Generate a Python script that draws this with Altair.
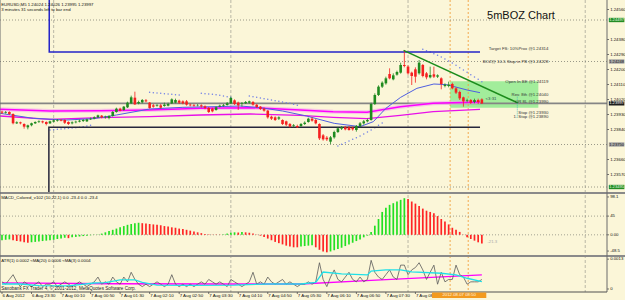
import altair as alt
import pandas as pd

BG = "#FBF6D8"
FONT = "Liberation Sans"

# ---------------- price candles (EURUSD M5), bar index 0..130 ----------------
open_p = [1.23947,1.23941,1.23945,1.23933,1.23877,1.23883,1.23873,1.23853,1.23865,1.23877,
1.23885,1.23889,1.23885,1.23877,1.23887,1.23893,1.23897,1.23897,1.23885,1.23877,
1.23883,1.23887,1.23891,1.23889,1.23901,1.23905,1.23913,1.23923,1.23913,1.23909,
1.23921,1.23945,1.23965,1.23957,1.23973,1.23997,1.24031,1.23997,1.24003,1.24015,
1.24001,1.23985,1.23981,1.23985,1.23981,1.23983,1.23997,1.24001,1.24013,1.24009,
1.24009,1.23989,1.23987,1.23985,1.23985,1.23979,1.23969,1.23965,1.23957,1.23977,
1.23983,1.23987,1.23997,1.24015,1.24001,1.23993,1.23997,1.24001,1.24005,1.23989,
1.23977,1.23965,1.23953,1.23917,1.23913,1.23905,1.23897,1.23889,1.23873,1.23861,
1.23861,1.23861,1.23873,1.23885,1.23905,1.23897,1.23873,1.23805,1.23791,1.23767,
1.23793,1.23825,1.23845,1.23853,1.23853,1.23851,1.23837,1.23861,1.23877,1.23889,
1.23897,1.23993,1.24047,1.24097,1.24117,1.24173,1.24141,1.24169,1.24181,1.24227,
1.24217,1.24181,1.24201,1.24177,1.24227,1.24177,1.24153,1.24171,1.24157,1.24147,
1.24101,1.24101,1.24113,1.24087,1.24065,1.24033,1.24013,1.24017,1.24005,1.24017,
1.24021]
high_p = [1.23953,1.23951,1.23949,1.23937,1.23889,1.23887,1.23877,1.23869,1.23881,1.23889,
1.23895,1.23893,1.23889,1.23893,1.23901,1.23903,1.23903,1.23901,1.23889,1.23889,
1.23893,1.23899,1.23903,1.23905,1.23911,1.23919,1.23929,1.23927,1.23923,1.23925,
1.23951,1.23971,1.23971,1.23981,1.24007,1.24043,1.24067,1.24013,1.24023,1.24023,
1.24005,1.23993,1.23993,1.23993,1.24001,1.24001,1.24027,1.24025,1.24019,1.24015,
1.24017,1.23995,1.23993,1.23993,1.23991,1.23985,1.23975,1.23971,1.23979,1.23989,
1.23993,1.24005,1.24037,1.24021,1.24007,1.24005,1.24011,1.24013,1.24011,1.23993,
1.23981,1.23971,1.23957,1.23923,1.23919,1.23919,1.23901,1.23893,1.23879,1.23873,
1.23869,1.23879,1.23889,1.23911,1.23913,1.23903,1.23877,1.23813,1.23801,1.23801,
1.23833,1.23853,1.23861,1.23861,1.23861,1.23857,1.23867,1.23885,1.23897,1.23905,
1.24001,1.24057,1.24105,1.24129,1.24157,1.24207,1.24177,1.24193,1.24241,1.24317,
1.24225,1.24187,1.24213,1.24257,1.24233,1.24185,1.24217,1.24217,1.24171,1.24153,
1.24117,1.24127,1.24121,1.24093,1.24073,1.24037,1.24025,1.24023,1.24025,1.24025,
1.24027]
low_p = [1.23933,1.23935,1.23927,1.23871,1.23873,1.23871,1.23845,1.23841,1.23859,1.23873,
1.23879,1.23877,1.23865,1.23873,1.23883,1.23887,1.23889,1.23873,1.23867,1.23871,
1.23877,1.23883,1.23885,1.23885,1.23897,1.23901,1.23909,1.23907,1.23905,1.23901,
1.23917,1.23941,1.23949,1.23953,1.23969,1.23993,1.23987,1.23991,1.23997,1.24003,
1.23965,1.23971,1.23977,1.23965,1.23977,1.23979,1.23993,1.23997,1.23993,1.23991,
1.23983,1.23979,1.23977,1.23979,1.23971,1.23961,1.23939,1.23943,1.23953,1.23973,
1.23977,1.23983,1.23993,1.23987,1.23957,1.23977,1.23993,1.23995,1.23983,1.23969,
1.23957,1.23947,1.23905,1.23897,1.23891,1.23897,1.23867,1.23861,1.23851,1.23853,
1.23849,1.23855,1.23867,1.23881,1.23887,1.23871,1.23777,1.23773,1.23771,1.23753,
1.23785,1.23819,1.23837,1.23835,1.23833,1.23833,1.23827,1.23853,1.23869,1.23883,
1.23893,1.23987,1.24041,1.24089,1.24109,1.24141,1.24135,1.24163,1.24175,1.24213,
1.24169,1.24107,1.24121,1.24169,1.24153,1.24141,1.24147,1.24149,1.24149,1.24081,
1.24093,1.24093,1.24081,1.24053,1.24017,1.23977,1.24003,1.23993,1.23997,1.23993,
1.23993]
close_p = [1.23941,1.23945,1.23933,1.23877,1.23883,1.23877,1.23857,1.23865,1.23877,1.23885,
1.23889,1.23883,1.23873,1.23889,1.23895,1.23897,1.23893,1.23881,1.23873,1.23883,
1.23887,1.23893,1.23897,1.23901,1.23905,1.23913,1.23925,1.23913,1.23917,1.23921,
1.23945,1.23965,1.23953,1.23977,1.24001,1.24033,1.23991,1.24005,1.24017,1.24009,
1.23969,1.23977,1.23985,1.23971,1.23989,1.23993,1.24021,1.24017,1.24001,1.23997,
1.23989,1.23985,1.23983,1.23987,1.23979,1.23969,1.23945,1.23949,1.23973,1.23983,
1.23987,1.23997,1.24029,1.23993,1.23985,1.23997,1.24005,1.24009,1.23989,1.23975,
1.23963,1.23953,1.23913,1.23905,1.23897,1.23913,1.23873,1.23869,1.23857,1.23865,
1.23853,1.23873,1.23881,1.23905,1.23893,1.23877,1.23787,1.23781,1.23781,1.23793,
1.23825,1.23847,1.23853,1.23841,1.23837,1.23841,1.23861,1.23877,1.23889,1.23897,
1.23993,1.24047,1.24097,1.24121,1.24147,1.24147,1.24165,1.24185,1.24227,1.24221,
1.24177,1.24161,1.24157,1.24241,1.24161,1.24153,1.24167,1.24157,1.24165,1.24113,
1.24109,1.24109,1.24087,1.24061,1.24027,1.24009,1.24017,1.24001,1.24017,1.24005,
1.23997]

# time axis labels (every 8 bars of 5 min)
time_tick_bars = [0, 8, 16, 24, 32, 40, 48, 56, 64, 72, 80, 88, 96, 104, 112]
time_tick_labels = ["6 Aug 2012", "6 Aug 23:30", "7 Aug 00:10", "7 Aug 00:50", "7 Aug 01:30",
                    "7 Aug 02:10", "7 Aug 02:50", "7 Aug 03:30", "7 Aug 04:10", "7 Aug 04:50",
                    "7 Aug 05:30", "7 Aug 06:10", "7 Aug 06:50", "7 Aug 07:30", "7 Aug 08:10"]

price_label_values = [1.2357, 1.2366, 1.2384, 1.2393, 1.2402, 1.2411, 1.2420, 1.2429, 1.2438, 1.2456]

# moving averages on price
ma_slow_bars = [-0.5, 13, 26.6, 40, 53.7, 67.2, 80.8, 89.7, 98.9, 107.9, 116.8, 129.5]
ma_slow_upper = [1.23961, 1.23951, 1.23953, 1.23957, 1.23967, 1.23971, 1.23957, 1.23947, 1.23943, 1.23977, 1.23997, 1.24005]
ma_slow_lower = [1.23921, 1.23901, 1.23911, 1.23917, 1.23927, 1.23933, 1.23925, 1.23913, 1.23905, 1.23925, 1.23947, 1.23961]
ma_fast_bars = [-0.5, 8.5, 17.5, 24.8, 31, 40, 49, 58, 64.5, 70, 76, 82.5, 90, 97, 100.6, 104, 108, 112.4, 117, 120.5, 126, 129.5]
ma_fast_vals = [1.23937, 1.23907, 1.23897, 1.23905, 1.23927, 1.23963, 1.23973, 1.23977, 1.23981, 1.23971, 1.23951,
                1.23921, 1.23877, 1.23857, 1.23887, 1.23967, 1.24033, 1.24087, 1.24113, 1.24109, 1.24077, 1.24061]

# parabolic SAR dots
sar_bars = (list(range(13, 25)) + list(range(40, 49)) + list(range(54, 63)) + list(range(67, 81))
            + list(range(91, 104)) + list(range(114, 131)))
sar_vals = [1.23837,1.23839,1.23841,1.23843,1.23845,1.23847,1.23849,1.23851,1.23853,1.23857,1.23861,1.23865,
            1.24063,1.24061,1.24059,1.24057,1.24055,1.24053,1.24051,1.24049,1.24047,
            1.24057,1.24055,1.24053,1.24051,1.24049,1.24045,1.24041,1.24037,1.24033,
            1.24041,1.24037,1.24033,1.24029,1.24025,1.24021,1.24017,1.24013,1.24009,1.24005,1.24001,1.23997,1.23991,1.23985,
            1.23741,1.23751,1.23761,1.23771,1.23781,1.23791,1.23801,1.23813,1.23825,1.23837,1.23851,1.23865,1.23879,
            1.24321,1.24313,1.24305,1.24295,1.24285,1.24275,1.24263,1.24251,1.24239,1.24225,1.24211,1.24197,1.24183,
            1.24169,1.24155,1.24141,1.24127]

# horizontal levels and their price tags
level_prices = [1.24497, 1.24248, 1.23750, 1.23495]
tag_prices = [1.24497, 1.24248, 1.23997, 1.23750, 1.23495]
tag_texts = ["1.24497", "1.24248", "1.23997", "1.23750", "1.23495"]
tag_kind = ["green", "gray", "bid", "gray", "green"]
bid_price = 1.23997

grid_bars = [14, 62, 110, 158]
session_bars = [121.4, 126.3]

target_bars = [12.8, 12.8, 129.5]
target_prices = [1.24617, 1.24305, 1.24305]
support_bars = [12.7, 12.7, 129.5]
support_prices = [1.23465, 1.23853, 1.23853]
zone_bars = [121.4, 145.3]
zone_prices = [1.24129, 1.23971]
trend_bars = [108.8, 139.8]
trend_prices = [1.24315, 1.23999]
stop_marker_bars = [139.6]
stop_marker_prices = [1.24037, 1.23907]

note_texts = ["Target FS: 10%Prox @1.24314", "BOZ@ 10-5 Stop in PB @1.24228", "Open In BE @1.24119",
              "Rev. 8th @1.24040", "OR 8L @1.23990", "Stop @1.23930", "1. Stop @1.23890"]
note_prices = [1.24321, 1.24243, 1.24127, 1.24049, 1.24005, 1.23941, 1.23917]

# ---------------- MACD colored histogram ----------------
macd_vals = [-13,-12,-11,-13,-15,-16,-18,-19,-18,-17,
             -16,-15,-14,-13,-12,-10,-9,-7,-8,-6,
             -5,-4,-3,-2,-1,0.5,1,3,6,9,
             12,15,18,21,24,26,28,29,28,27,
             26,25,24,23,21,20,18,17,15,14,
             12,10,8,6,4,2,1,0.5,0.5,0.5,
             1,3,5,6,5.5,7,6,5,3,1,
             -2,-5,-9,-13,-17,-20,-23,-26,-28,-30,
             -30,-28,-27,-26,-25,-30,-36,-40,-42,-40,
             -37,-34,-31,-27,-23,-19,-15,-11,-6,-2,
             7,22,38,55,65,72,76,80,84,88,
             86,80,75,69,63,58,55,52,45,38,
             32,25,17,12,7,0.5,-6,-10,-14,-18,-21]
macd_cols = (["g"]*3 + ["r"]*5 + ["g"]*10 + ["r"] + ["g"]*19 + ["r"]*22 + ["g"]*4 + ["r"] + ["g"]
             + ["r"]*15 + ["g"]*4 + ["r"]*4 + ["g"]*21 + ["r"]*21)
macd_label_vals = [91, 45, 0, -39]
macd_label_texts = ["98.1", "45", "0.00", "-48.5"]

# ---------------- ATR ----------------
atr1_vals = [0.0003,0.0002,0.0004,0.0006,0.0003,0.0001,0.0003,0.0002,0.0001,0.0002,
             0.0003,0.0001,0.0002,0.0002,0.0003,0.0001,0.0002,0.0003,0.0002,0.0001,
             0.0002,0.0003,0.0002,0.0001,0.0002,0.0003,0.0005,0.0002,0.0003,0.0002,
             0.0005,0.0003,0.0002,0.0005,0.0003,0.0007,0.0004,0.0002,0.0001,0.0002,
             0.0001,0.0002,0.0003,0.0002,0.0001,0.0002,0.0006,0.0002,0.0001,0.0002,
             0.0001,0.0002,0.0001,0.0002,0.0003,0.0002,0.0004,0.0003,0.0002,0.0003,
             0.0002,0.0001,0.0004,0.0003,0.0002,0.0001,0.0002,0.0003,0.0007,0.0002,
             0.0003,0.0002,0.0005,0.0003,0.0002,0.0003,0.0004,0.0002,0.0003,0.0002,
             0.0001,0.0002,0.0002,0.0003,0.0002,0.0003,0.0011,0.0004,0.0001,0.0005,
             0.0008,0.0004,0.0003,0.0005,0.0007,0.0004,0.0003,0.0005,0.0003,0.0004,
             0.0012,0.0007,0.0005,0.0004,0.0006,0.0008,0.0005,0.0004,0.0010,0.0010,
             0.0006,0.0008,0.0009,0.0011,0.0008,0.0004,0.0007,0.0010,0.0002,0.0007,
             0.0003,0.0004,0.0004,0.0010,0.0006,0.0005,0.0002,0.0003,0.0003,0.0003,0.0004]
atr_ma_fast_bars = [0,5,10,18,25,28,32,36,38,42,50,63,72,81,85,87,92,99,100,104,108,111,119,123,126,130]
atr_ma_fast_vals = [0.00021,0.00021,0.00014,0.00013,0.00025,0.00027,0.00038,0.00038,0.00028,0.00016,0.00015,
                    0.00016,0.00021,0.00021,0.00028,0.00071,0.00063,0.00059,0.00075,0.0008,0.0008,0.00072,
                    0.00066,0.00059,0.00045,0.00031]
atr_ma_slow_bars = [0, 30, 60, 81, 100, 130]
atr_ma_slow_vals = [0.00026, 0.00022, 0.00021, 0.00021, 0.00036, 0.00059]
atr_label_vals = [0.00125, 0]
atr_label_texts = ["0.0013", "0"]

# ---------------- layout: one view, three stacked panes ----------------
# (each pane uses its own y scale whose domain is stretched so the pane lands in its band)
W, H = 607, 292
X_DOMAIN = [-0.54, 163.9]          # bar index across the plot width
P_DOMAIN = [1.22865, 1.24617]      # price pane occupies rows 0..192
M_DOMAIN = [-137.4, 564.3]         # MACD pane occupies rows 194..255
A_DOMAIN = [-0.000126, 0.012105]   # ATR pane occupies rows 257..292
X_AXIS_LABEL = 164.75              # right-hand label column (bar units)
X_TICK = [163.9, 164.45]
X_RIGHT_END = 168.8
PANE_SEPARATORS = [(1.23465, 1.23453), (1.23087, 1.23075)]   # in price units
ATR_BOTTOM, ATR_TICK_END, ATR_LABEL_Y = -0.000126, -0.00021, -0.00019

xs = alt.Scale(domain=X_DOMAIN, nice=False, zero=False, padding=0)
ps = alt.Scale(domain=P_DOMAIN, nice=False, zero=False, padding=0)
ms = alt.Scale(domain=M_DOMAIN, nice=False, zero=False, padding=0)
ats = alt.Scale(domain=A_DOMAIN, nice=False, zero=False, padding=0)


def X(f):
    return alt.X(f, type="quantitative", scale=xs, axis=None)


def PY(f):
    return alt.Y(f, type="quantitative", scale=ps, axis=None)


def MY(f):
    return alt.Y(f, type="quantitative", scale=ms, axis=None)


def AY(f):
    return alt.Y(f, type="quantitative", scale=ats, axis=None)


def txt(df, yfun, yfield, align="left", size=4.3, color="#111111", xfield="i", fmt=None):
    t = alt.Text("t:N") if fmt is None else alt.Text("t:Q", format=fmt)
    return alt.Chart(df).mark_text(align=align, baseline="middle", fontSize=size, font=FONT, color=color).encode(
        x=X(xfield), y=yfun(yfield), text=t)


# ---------------- tables ----------------
n = len(close_p)
candles = pd.DataFrame({"i": list(range(n)), "o": open_p, "h": high_p, "l": low_p, "c": close_p})
up = candles[candles["c"] >= candles["o"]]
down = candles[candles["c"] < candles["o"]]

grid_df = pd.DataFrame({"i": grid_bars})
sess_df = pd.DataFrame({"i": session_bars})
lev_df = pd.DataFrame({"p": level_prices})
bid_df = pd.DataFrame({"p": [bid_price]})
zone_df = pd.DataFrame({"x1": [zone_bars[0]], "x2": [zone_bars[1]], "y1": [zone_prices[0]], "y2": [zone_prices[1]]})
slow_df = pd.DataFrame({"i": ma_slow_bars, "u": ma_slow_upper, "lo": ma_slow_lower})
fast_df = pd.DataFrame({"i": ma_fast_bars, "p": ma_fast_vals})
sar_df = pd.DataFrame({"i": sar_bars, "p": sar_vals})
target_df = pd.DataFrame({"i": target_bars, "p": target_prices, "o": [0, 1, 2]})
support_df = pd.DataFrame({"i": support_bars, "p": support_prices, "o": [0, 1, 2]})
trend_df = pd.DataFrame({"i": trend_bars, "p": trend_prices})
stopm_df = pd.DataFrame({"i": stop_marker_bars, "p1": [stop_marker_prices[0]], "p2": [stop_marker_prices[1]]})
notes_df = pd.DataFrame({"i": [148] * len(note_texts), "p": note_prices, "t": note_texts})
tags_df = pd.DataFrame({"x1": [164.4] * 5, "x2": [168.6] * 5, "xm": [166.5] * 5, "p": tag_prices,
                        "y1": [p + 0.00013 for p in tag_prices], "y2": [p - 0.00013 for p in tag_prices],
                        "t": tag_texts, "k": tag_kind})
header_df = pd.DataFrame({"i": [-0.2, -0.2], "p": [1.24590, 1.24560],
                          "t": ["EURUSD,M5  1.24024 1.24026 1.23995 1.23997",
                                "3 minutes 31 seconds left to bar end"]})
title_df = pd.DataFrame({"i": [131.4], "p": [1.24521], "t": ["5mBOZ Chart"]})
timer_df = pd.DataFrame({"i": [131], "p": [1.24023], "t": ["<3:31"]})
plabel_df = pd.DataFrame({"i": [X_AXIS_LABEL] * len(price_label_values), "p": price_label_values,
                          "t": price_label_values, "x1": [X_TICK[0]] * len(price_label_values),
                          "x2": [X_TICK[1]] * len(price_label_values)})

macd_df = pd.DataFrame({"i": list(range(n)), "v": macd_vals, "c": macd_cols, "z": [0] * n})
macd_g = macd_df[macd_df["c"] == "g"]
macd_r = macd_df[macd_df["c"] == "r"]
macd_grid_df = pd.DataFrame({"v": [45, 0]})
macd_head_df = pd.DataFrame({"i": [-0.2], "v": [89], "t": ["MACD_Colored_v102 (10,22,1) 0.0 -23.4 0.0 -23.4"]})
macd_last_df = pd.DataFrame({"i": [131.5], "v": [-16.6], "t": ["-21.3"]})
mlabel_df = pd.DataFrame({"i": [X_AXIS_LABEL] * 4, "v": macd_label_vals, "t": macd_label_texts,
                          "x1": [X_TICK[0]] * 4, "x2": [X_TICK[1]] * 4})

atr_df = pd.DataFrame({"i": list(range(n)), "a": atr1_vals})
atr_fast_df = pd.DataFrame({"i": atr_ma_fast_bars, "a": atr_ma_fast_vals})
atr_slow_df = pd.DataFrame({"i": atr_ma_slow_bars, "a": atr_ma_slow_vals})
atr_head_df = pd.DataFrame({"i": [-0.2], "a": [0.00117],
                            "t": ["ATR(1) 0.0002   \u2248MA(20) 0.0006   \u2248MA(3) 0.0004"]})
copy_df = pd.DataFrame({"i": [-0.2], "a": [0.00001],
                        "t": ["Saxobank FX Trader 4, \u00a9 2001-2012, MetaQuotes Software Corp."]})
alabel_df = pd.DataFrame({"i": [X_AXIS_LABEL] * 2, "a": atr_label_vals, "t": atr_label_texts,
                          "x1": [X_TICK[0]] * 2, "x2": [X_TICK[1]] * 2})
time_df = pd.DataFrame({"i": time_tick_bars, "t": time_tick_labels,
                        "a": [ATR_LABEL_Y] * len(time_tick_bars),
                        "a1": [ATR_BOTTOM] * len(time_tick_bars), "a2": [ATR_TICK_END] * len(time_tick_bars)})
orange_df = pd.DataFrame({"x1": [116.5], "x2": [131.2], "xm": [123.85], "y1": [-0.00015], "y2": [-0.00038],
                          "ym": [-0.000265], "t": ["2012.08.07 08:50"]})

sep_df = pd.DataFrame({"x1": [X_DOMAIN[0]] * 2, "x2": [X_RIGHT_END] * 2,
                       "y1": [s[0] for s in PANE_SEPARATORS], "y2": [s[1] for s in PANE_SEPARATORS]})
edge_df = pd.DataFrame({"i": [X_DOMAIN[0], X_DOMAIN[1]]})
bottom_df = pd.DataFrame({"a": [ATR_BOTTOM]})

GRID_C = "#A9A79A"
ORANGE_C = "#F0A040"
UP_C, DOWN_C = "#1F8A1F", "#F52020"

layers = [
    # price pane
    alt.Chart(zone_df).mark_rect(color="#8CEB8C", opacity=0.8).encode(x=X("x1"), x2="x2", y=PY("y1"), y2="y2"),
    alt.Chart(grid_df).mark_rule(color=GRID_C, strokeDash=[3, 2], strokeWidth=0.8).encode(x=X("i")),
    alt.Chart(sess_df).mark_rule(color=ORANGE_C, strokeDash=[2, 2], strokeWidth=0.9).encode(x=X("i")),
    alt.Chart(lev_df).mark_rule(color="#8E8E80", strokeDash=[1, 2], strokeWidth=0.9).encode(y=PY("p")),
    alt.Chart(bid_df).mark_rule(color="#858585", strokeWidth=1.6).encode(y=PY("p")),
    alt.Chart(slow_df).mark_line(color="#F4A8EE", strokeWidth=4.0, opacity=0.6).encode(x=X("i"), y=PY("u")),
    alt.Chart(slow_df).mark_line(color="#FF00FF", strokeWidth=1.5).encode(x=X("i"), y=PY("u")),
    alt.Chart(slow_df).mark_line(color="#E810E8", strokeWidth=1.3).encode(x=X("i"), y=PY("lo")),
    alt.Chart(fast_df).mark_line(color="#4F5FE0", strokeWidth=1.0).encode(x=X("i"), y=PY("p")),
    alt.Chart(sar_df).mark_circle(color="#6F7FE6", size=2.2, opacity=1).encode(x=X("i"), y=PY("p")),
    alt.Chart(target_df).mark_line(color="#2424C8", strokeWidth=1.5).encode(x=X("i"), y=PY("p"), order="o:Q"),
    alt.Chart(support_df).mark_line(color="#26263A", strokeWidth=1.5).encode(x=X("i"), y=PY("p"), order="o:Q"),
    alt.Chart(up).mark_rule(strokeWidth=0.8, color=UP_C).encode(x=X("i"), y=PY("l"), y2="h"),
    alt.Chart(down).mark_rule(strokeWidth=0.8, color=DOWN_C).encode(x=X("i"), y=PY("l"), y2="h"),
    alt.Chart(up).mark_bar(size=2.6, color=UP_C).encode(x=X("i"), y=PY("o"), y2="c"),
    alt.Chart(down).mark_bar(size=2.6, color=DOWN_C).encode(x=X("i"), y=PY("o"), y2="c"),
    alt.Chart(trend_df).mark_line(color="#1C8C1C", strokeWidth=1.5).encode(x=X("i"), y=PY("p")),
    alt.Chart(stopm_df).mark_rule(color="#40B8B8", strokeDash=[1, 1], strokeWidth=0.8).encode(x=X("i"), y=PY("p1"), y2="p2"),
    txt(notes_df, PY, "p", align="right", color="#333333"),
    txt(timer_df, PY, "p", color="#2F4F4F"),
    txt(header_df, PY, "p"),
    txt(title_df, PY, "p", size=11),
    alt.Chart(plabel_df).mark_rule(color="#505050", strokeWidth=0.8).encode(x=X("x1"), x2="x2", y=PY("p")),
    txt(plabel_df, PY, "p", fmt=".5f"),
    alt.Chart(tags_df[tags_df["k"] == "green"]).mark_rect(color="#238C23").encode(x=X("x1"), x2="x2", y=PY("y1"), y2="y2"),
    alt.Chart(tags_df[tags_df["k"] == "gray"]).mark_rect(color="#A3A3A3").encode(x=X("x1"), x2="x2", y=PY("y1"), y2="y2"),
    alt.Chart(tags_df[tags_df["k"] == "bid"]).mark_rect(color="#1E1E1E").encode(x=X("x1"), x2="x2", y=PY("y1"), y2="y2"),
    txt(tags_df[tags_df["k"] == "green"], PY, "p", align="center", size=4.1, color="#E8FFE8", xfield="xm"),
    txt(tags_df[tags_df["k"] == "gray"], PY, "p", align="center", size=4.1, color="#202020", xfield="xm"),
    txt(tags_df[tags_df["k"] == "bid"], PY, "p", align="center", size=4.1, color="#FFFFFF", xfield="xm"),
    # MACD pane
    alt.Chart(macd_grid_df).mark_rule(color="#8E8E80", strokeDash=[1, 2], strokeWidth=0.8).encode(y=MY("v")),
    alt.Chart(macd_g).mark_bar(size=1.7, color="#22E022").encode(x=X("i"), y=MY("v"), y2="z"),
    alt.Chart(macd_r).mark_bar(size=1.7, color="#FF2424").encode(x=X("i"), y=MY("v"), y2="z"),
    txt(macd_head_df, MY, "v"),
    txt(macd_last_df, MY, "v", color="#A8A8A8"),
    alt.Chart(mlabel_df).mark_rule(color="#505050", strokeWidth=0.8).encode(x=X("x1"), x2="x2", y=MY("v")),
    txt(mlabel_df, MY, "v"),
    # ATR pane
    alt.Chart(atr_slow_df).mark_line(color="#FF00FF", strokeWidth=1.3).encode(x=X("i"), y=AY("a")),
    alt.Chart(atr_df).mark_line(color="#5A5A5A", strokeWidth=0.8).encode(x=X("i"), y=AY("a")),
    alt.Chart(atr_fast_df).mark_line(color="#20E0E8", strokeWidth=1.3).encode(x=X("i"), y=AY("a")),
    txt(atr_head_df, AY, "a"),
    txt(copy_df, AY, "a", size=4.6, color="#222222"),
    alt.Chart(alabel_df).mark_rule(color="#505050", strokeWidth=0.8).encode(x=X("x1"), x2="x2", y=AY("a")),
    txt(alabel_df, AY, "a"),
    # frame, separators and time axis
    alt.Chart(sep_df).mark_rect(color="#8A8A8A").encode(x=X("x1"), x2="x2", y=PY("y1"), y2="y2"),
    alt.Chart(edge_df).mark_rule(color="#6A6A6A", strokeWidth=1.0).encode(x=X("i")),
    alt.Chart(bottom_df).mark_rule(color="#505050", strokeWidth=1.0).encode(y=AY("a")),
    alt.Chart(time_df).mark_rule(color="#505050", strokeWidth=0.8).encode(x=X("i"), y=AY("a1"), y2="a2"),
    alt.Chart(time_df).mark_text(align="left", baseline="top", fontSize=4.4, font=FONT, color="#111111", dx=0.5).encode(
        x=X("i"), y=AY("a"), text="t:N"),
    alt.Chart(orange_df).mark_rect(color="#F39A1E").encode(x=X("x1"), x2="x2", y=AY("y1"), y2="y2"),
    txt(orange_df.rename(columns={"xm": "i", "ym": "yy"}), AY, "yy", align="center", color="#FFF6E0"),
]

chart = alt.layer(*layers).resolve_scale(y="independent").properties(
    width=W, height=H, background=BG,
    padding={"left": 0, "top": 0, "right": 18, "bottom": 8},
    autosize=alt.AutoSizeParams(type="none"),
).configure_view(fill=BG, stroke=None)

chart.save("out.html", embed_options={"renderer": "svg", "actions": False})
